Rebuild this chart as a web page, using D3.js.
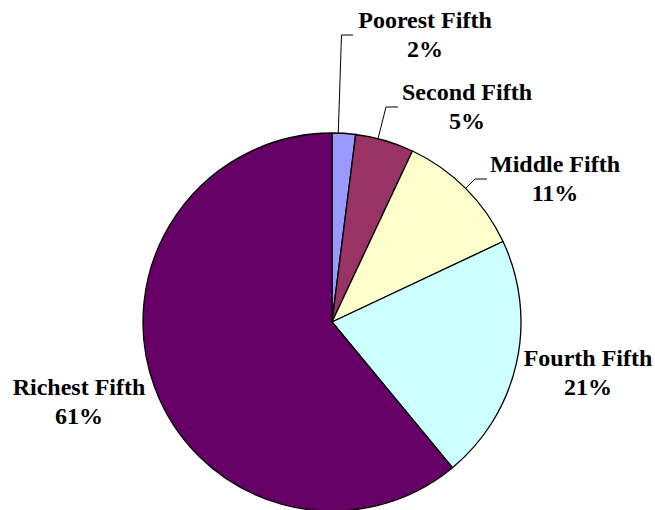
<!DOCTYPE html>
<html>
<head>
<meta charset="utf-8">
<script src="https://cdn.jsdelivr.net/npm/d3@7"></script>
<style>
  html, body { margin: 0; padding: 0; background: #fff; }
  svg { display: block; }
  text { font-family: "Liberation Serif", "Times New Roman", serif; font-weight: bold; font-size: 24px; fill: #000; }
</style>
</head>
<body>
<svg id="chart" width="655" height="510"></svg>
<script>
// Share of total by income quintile
const categories = ["Poorest Fifth", "Second Fifth", "Middle Fifth", "Fourth Fifth", "Richest Fifth"];
const shares = [2, 5, 11, 21, 61];
const colors = ["#9999FF", "#993366", "#FFFFCC", "#CCFFFF", "#660066"];

const svg = d3.select("#chart");
const cx = 332, cy = 322, r = 189;

const pie = d3.pie().sort(null).value(d => d.value);
const arc = d3.arc().innerRadius(0).outerRadius(r);
const data = categories.map((c, i) => ({ name: c, value: shares[i], color: colors[i] }));
const arcs = pie(data);

const g = svg.append("g").attr("transform", `translate(${cx},${cy})`);
g.selectAll("path.slice")
  .data(arcs)
  .join("path")
  .attr("class", "slice")
  .attr("d", arc)
  .attr("fill", d => d.data.color)
  .attr("stroke", "#000")
  .attr("stroke-width", 1.3)
  .attr("stroke-linejoin", "round");

// Label placement (centre x, first-line baseline) and optional leader polyline
const labelPos = [
  { x: 425, y: 28, leader: [[341.5, 35], [353, 35]] },
  { x: 467, y: 100, leader: [[386, 107], [398, 107]] },
  { x: 555, y: 172, leader: [[475, 179], [487, 179]] },
  { x: 588, y: 366, leader: null },
  { x: 79, y: 395, leader: null }
];

arcs.forEach((a, i) => {
  const p = labelPos[i];
  if (p.leader) {
    // anchor the leader on the slice edge at a point near the label
    const ang = Math.atan2(p.leader[0][1] - cy, p.leader[0][0] - cx) + Math.PI / 2;
    const a0 = Math.max(a.startAngle, Math.min(a.endAngle, ang));
    const start = [cx + r * Math.sin(a0), cy - r * Math.cos(a0)];
    svg.append("polyline")
      .attr("points", [start, ...p.leader].map(q => q.join(",")).join(" "))
      .attr("fill", "none")
      .attr("stroke", "#000")
      .attr("stroke-width", 1);
  }
  const t = svg.append("text").attr("text-anchor", "middle");
  t.append("tspan").attr("x", p.x).attr("y", p.y).text(a.data.name);
  t.append("tspan").attr("x", p.x).attr("y", p.y + 29).text(a.data.value + "%");
});
</script>
</body>
</html>
